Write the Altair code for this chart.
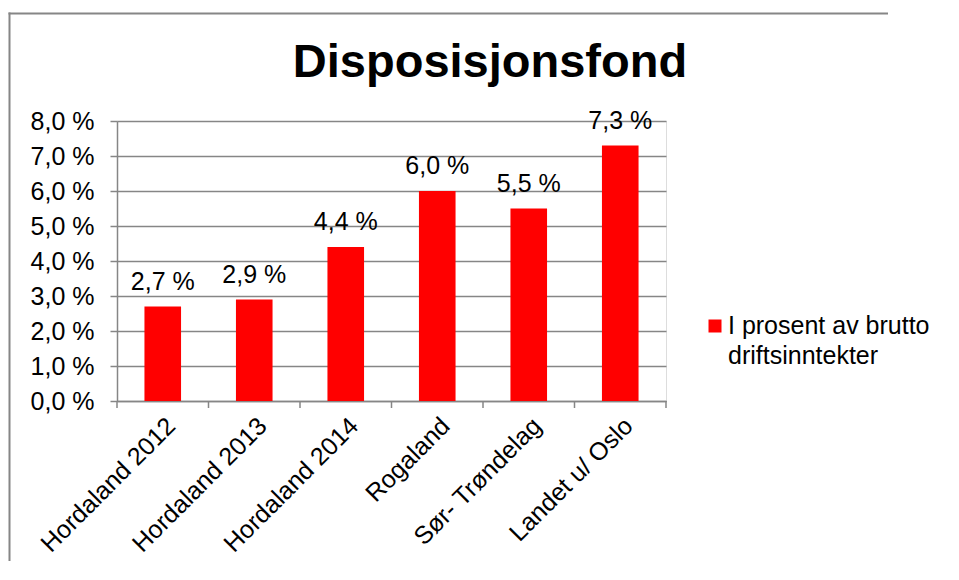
import altair as alt
import pandas as pd

categories = ["Hordaland 2012", "Hordaland 2013", "Hordaland 2014", "Rogaland", "Sør- Trøndelag", "Landet u/ Oslo"]
values = [2.7, 2.9, 4.4, 6.0, 5.5, 7.3]
title_text = "Disposisjonsfond"
series_lines = ["I prosent av brutto", "driftsinntekter"]
y_ticks = [0, 1, 2, 3, 4, 5, 6, 7, 8]

FONT = "Liberation Sans"
GRAY = "#868686"
RED = "#FF0000"
W, H = 549, 280
STEP = W / len(categories)
PAD = {"left": 109, "top": 113, "right": 282, "bottom": 160}

df = pd.DataFrame({"cat": categories, "val": values})
df["lab"] = [f"{v:.1f}".replace(".", ",") + " %" for v in values]

xenc = alt.X("cat:N", sort=categories,
             scale=alt.Scale(paddingInner=0.6, paddingOuter=0.3),
             axis=alt.Axis(title=None, ticks=False, labelAngle=-45, labelFontSize=25,
                           labelFont=FONT, labelColor="black", labelPadding=12,
                           labelOverlap=False, labelLimit=400,
                           domainColor=GRAY, domainWidth=1.5))
yenc = alt.Y("val:Q", scale=alt.Scale(domain=[0, 8], nice=False),
             axis=alt.Axis(title=None, values=y_ticks, tickSize=7, tickColor=GRAY, tickWidth=1.5,
                           domainColor=GRAY, domainWidth=1.5, gridColor=GRAY, gridWidth=1.5,
                           labelOverlap=False,
                           labelFontSize=25, labelFont=FONT, labelColor="black", labelPadding=16,
                           labelExpr="replace(format(datum.value, '.1f'), '.', ',') + ' %'"))

base = alt.Chart(df)

bars = base.mark_bar(color=RED).encode(x=xenc, y=yenc)
labels = base.mark_text(fontSize=25, font=FONT, color="black", baseline="alphabetic", dy=-17).encode(
    x=xenc, y=yenc, text="lab:N")
xticks = base.mark_rule(color=GRAY, strokeWidth=1.5, xOffset=-STEP / 2).encode(
    x=xenc, y=alt.value(H), y2=alt.value(H + 7))

one = alt.Data(values=[{"a": 1}])
end_tick = alt.Chart(one).mark_rule(color=GRAY, strokeWidth=1.5).encode(
    x=alt.value(W), y=alt.value(H), y2=alt.value(H + 7))
border_left = alt.Chart(one).mark_rect(color=GRAY, strokeWidth=0).encode(
    x=alt.value(-108.5), x2=alt.value(-106.5), y=alt.value(-108.5), y2=alt.value(H + PAD["bottom"]))
border_top = alt.Chart(one).mark_rect(color=GRAY, strokeWidth=0).encode(
    x=alt.value(-108.5), x2=alt.value(W + PAD["right"] - 60), y=alt.value(-108.5), y2=alt.value(-106.5))
title = alt.Chart(one).mark_text(text=title_text, fontSize=47, fontWeight="bold", font=FONT,
                                 color="black", align="center", baseline="alphabetic").encode(
    x=alt.value(373), y=alt.value(-44))
leg_sq = alt.Chart(one).mark_square(size=169, color=RED, opacity=1).encode(
    x=alt.value(598), y=alt.value(205))
leg_txt = alt.Chart(one).mark_text(text=series_lines, fontSize=25, font=FONT, color="black",
                                   align="left", baseline="alphabetic", lineHeight=30).encode(
    x=alt.value(611), y=alt.value(213))

chart = alt.layer(border_left, border_top, bars, labels, xticks, end_tick, title, leg_sq, leg_txt).properties(
    width=W, height=H,
    autosize=alt.AutoSizeParams(type="none"),
    padding=PAD,
).configure_view(stroke=None).configure(background="white")

chart.save("out.html", embed_options={"renderer": "svg", "actions": False})
